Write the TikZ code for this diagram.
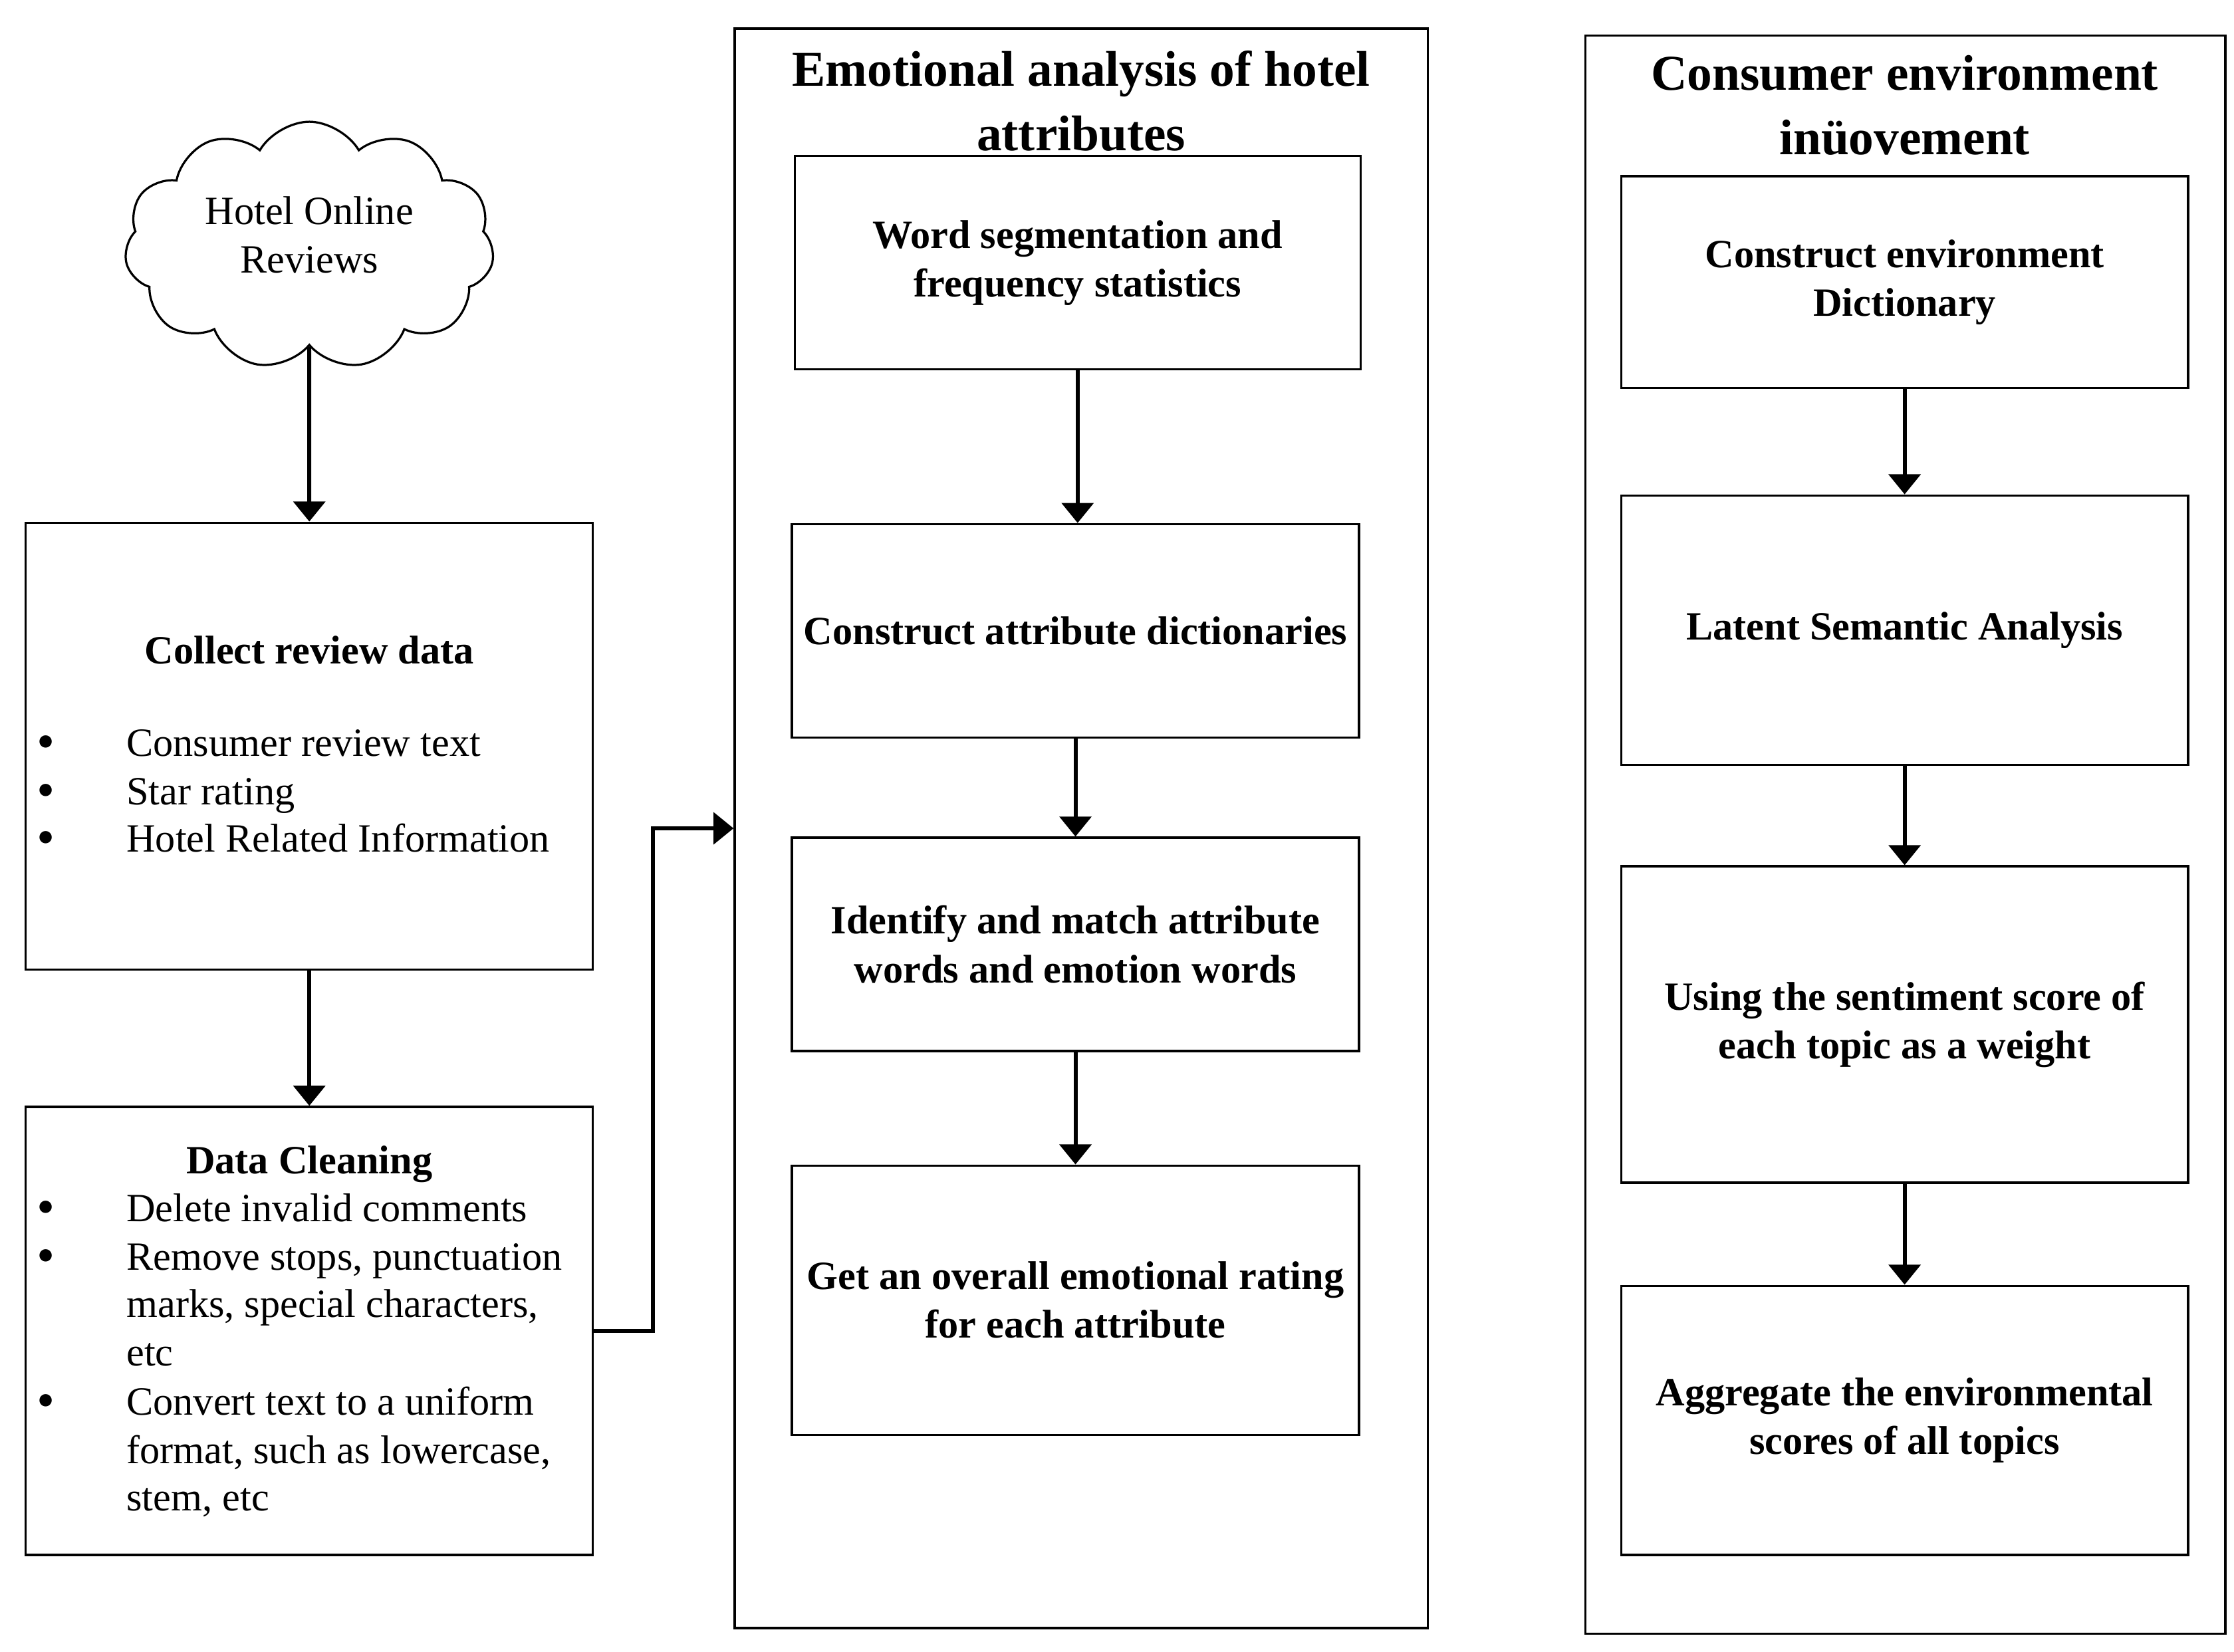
\documentclass[tikz,border=0pt]{standalone}
\usepackage{fontspec}
\setmainfont{Liberation Serif}
\usetikzlibrary{shapes.symbols,arrows.meta}
\begin{document}
\begin{tikzpicture}[x=0.5pt,y=-0.5pt]
\tikzset{
 box/.style={draw,line width=0.75pt,inner sep=0pt,align=center,font=\bfseries\fontsize{14}{17}\selectfont},
 panel/.style={draw,line width=0.75pt,inner sep=0pt},
 arr/.style={line width=1.4pt,-{Triangle[width=11pt,length=7pt]}},
 body/.style={font=\fontsize{14}{17}\selectfont,inner sep=0pt},
 bul/.style={font=\fontsize{18}{17}\selectfont,inner sep=0pt,anchor=base,text height=7pt,text depth=0pt},
 ttl/.style={font=\bfseries\fontsize{17.5}{22.5}\selectfont,align=center,inner sep=0pt},
}
\useasboundingbox (0,0) rectangle (1560,1153.3);
% cloud
\node[cloud,draw,line width=0.75pt,cloud puffs=11,cloud puff arc=120,aspect=1.5,
      minimum width=129pt,minimum height=86.5pt,inner sep=0pt] (cloud) at (216,171.5) {};
\node[body,align=center] (cloudtext) at (216,164) {Hotel Online\\Reviews};
% left boxes
\node[panel,minimum width=198pt,minimum height=156pt] (collect) at (216,521) {};
\node[panel,minimum width=198pt,minimum height=156.5pt] (clean) at (216,929.5) {};
\node[body,font=\bfseries\fontsize{14}{17}\selectfont] (collectT) at (216,454) {Collect review data};
\node[bul] (cb1) at (32,530) {\textbullet};
\node[bul] (cb2) at (32,564) {\textbullet};
\node[bul] (cb3) at (32,597) {\textbullet};
\node[body,anchor=base west] (c1) at (88,528) {Consumer review text};
\node[body,anchor=base west] (c2) at (88,562) {Star rating};
\node[body,anchor=base west] (c3) at (88,595) {Hotel Related Information};
\node[body,font=\bfseries\fontsize{14}{17}\selectfont] (cleanT) at (216,813) {Data Cleaning};
\node[bul] (db1) at (32,855) {\textbullet};
\node[bul] (db2) at (32,889) {\textbullet};
\node[bul] (db3) at (32,990) {\textbullet};
\node[body,anchor=base west] (d1) at (88,853) {Delete invalid comments};
\node[body,anchor=base west] (d2) at (88,887) {Remove stops, punctuation};
\node[body,anchor=base west] (d3) at (88,920) {marks, special characters,};
\node[body,anchor=base west] (d4) at (88,954) {etc};
\node[body,anchor=base west] (d5) at (88,988) {Convert text to a uniform};
\node[body,anchor=base west] (d6) at (88,1022) {format, such as lowercase,};
\node[body,anchor=base west] (d7) at (88,1055) {stem, etc};
% middle panel
\node[panel,minimum width=242pt,minimum height=558.5pt] (mid) at (755,578.5) {};
\node[ttl] (midT) at (755,70.5) {Emotional analysis of hotel\\attributes};
\node[box,minimum width=197.5pt,minimum height=74.5pt] (m1) at (752.5,183.5) {Word segmentation and\\frequency statistics};
\node[box,minimum width=198pt,minimum height=74.5pt] (m2) at (751,440.5) {Construct attribute dictionaries};
\node[box,minimum width=198pt,minimum height=74.5pt] (m3) at (751,659.5) {Identify and match attribute\\words and emotion words};
\node[box,minimum width=198pt,minimum height=94pt] (m4) at (751,908) {Get an overall emotional rating\\for each attribute};
% right panel
\node[panel,minimum width=223.5pt,minimum height=558pt] (right) at (1330.5,583) {};
\node[ttl] (rightT) at (1330,73.5) {Consumer environment\\inüovement};
\node[box,minimum width=198pt,minimum height=74pt] (r1) at (1330,197) {Construct environment\\Dictionary};
\node[box,minimum width=198pt,minimum height=94pt] (r2) at (1330,440) {Latent Semantic Analysis};
\node[box,minimum width=198pt,minimum height=110.5pt] (r3) at (1330,715.5) {Using the sentiment score of\\each topic as a weight};
\node[box,minimum width=198pt,minimum height=94pt] (r4) at (1330,992) {Aggregate the environmental\\scores of all topics};
% arrows
\draw[arr] (cloud.south) -- (collect.north);
\draw[arr] (collect.south) -- (clean.north);
\draw[arr] (clean.east) -- ++(41,0) |- (mid.west);
\draw[arr] (m1.south) -- (m1.south |- m2.north);
\draw[arr] (m2.south) -- (m3.north);
\draw[arr] (m3.south) -- (m4.north);
\draw[arr] (r1.south) -- (r2.north);
\draw[arr] (r2.south) -- (r3.north);
\draw[arr] (r3.south) -- (r4.north);
\end{tikzpicture}
\end{document}
